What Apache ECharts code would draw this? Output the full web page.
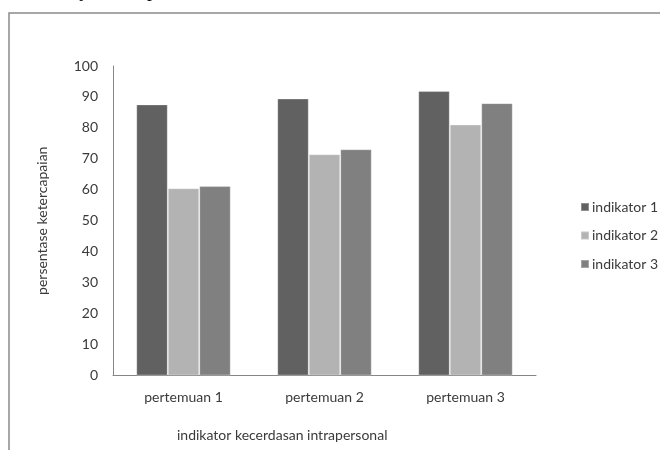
<!DOCTYPE html>
<html>
<head>
<meta charset="utf-8">
<script src="https://cdn.jsdelivr.net/npm/echarts@6/dist/echarts.min.js"></script>
<style>
html,body{margin:0;padding:0;background:#fff;}
#main{width:660px;height:450px;}
</style>
</head>
<body>
<div id="main"></div>
<script>
var categories = ['pertemuan 1', 'pertemuan 2', 'pertemuan 3'];
var seriesNames = ['indikator 1', 'indikator 2', 'indikator 3'];
var indikator1 = [87.6, 89.5, 91.9];
var indikator2 = [60.5, 71.5, 81.1];
var indikator3 = [61.2, 73.1, 88.0];
var yTicks = {min: 0, max: 100, interval: 10};
var yTitle = 'persentase ketercapaian';
var xTitle = 'indikator kecerdasan intrapersonal';

var colors = ['#616161', '#b3b3b3', '#808080'];
var font = 'Lato, "Open Sans", sans-serif';
var txt = '#3a3a3a';

var chart = echarts.init(document.getElementById('main'), null, {renderer: 'canvas'});
var values = [indikator1, indikator2, indikator3];
var series = seriesNames.map(function (n, i) {
  return {
    name: n,
    type: 'bar',
    data: values[i],
    barGap: '0%',
    barCategoryGap: '33%',
    itemStyle: {color: colors[i], borderColor: 'rgba(255,255,255,0.3)', borderWidth: 1},
    emphasis: {disabled: true},
    animation: false
  };
});

chart.setOption({
  animation: false,
  backgroundColor: '#fff',
  grid: {left: 113, right: 124, top: 66, bottom: 74.5, containLabel: false},
  legend: {
    orient: 'vertical',
    left: 580,
    top: 200,
    padding: 0,
    itemWidth: 8,
    itemHeight: 8,
    itemGap: 14.5,
    icon: 'rect',
    data: seriesNames,
    textStyle: {color: txt, fontFamily: font, fontSize: 14, lineHeight: 14, padding: [0, 0, 0, -2]},
    selectedMode: false
  },
  xAxis: {
    type: 'category',
    data: categories,
    axisLine: {lineStyle: {color: '#868686', width: 1}},
    axisTick: {show: false},
    axisLabel: {color: txt, fontFamily: font, fontSize: 14, margin: 15}
  },
  yAxis: {
    type: 'value',
    min: yTicks.min,
    max: yTicks.max,
    interval: yTicks.interval,
    name: yTitle,
    nameLocation: 'middle',
    nameGap: 64,
    nameRotate: 90,
    nameTextStyle: {color: txt, fontFamily: font, fontSize: 14},
    axisLine: {show: true, lineStyle: {color: '#868686', width: 1}},
    axisTick: {show: false},
    splitLine: {show: false},
    axisLabel: {color: txt, fontFamily: font, fontSize: 14, margin: 15}
  },
  graphic: [
    {type: 'rect', shape: {x: 9, y: 13, width: 700, height: 500}, style: {fill: 'none', stroke: '#8a8a8a', lineWidth: 1.5}, silent: true},
    {type: 'text', x: 177, y: 435, style: {text: xTitle, fill: txt, font: '14px ' + font, align: 'left', verticalAlign: 'middle'}},
    {type: 'text', x: 83, y: -9, style: {text: 'j', fill: '#000', font: '20px "Liberation Serif", serif', align: 'center', verticalAlign: 'middle'}},
    {type: 'text', x: 152, y: -9, style: {text: 'p', fill: '#000', font: '20px "Liberation Serif", serif', align: 'center', verticalAlign: 'middle'}}
  ],
  series: series
});
</script>
</body>
</html>
